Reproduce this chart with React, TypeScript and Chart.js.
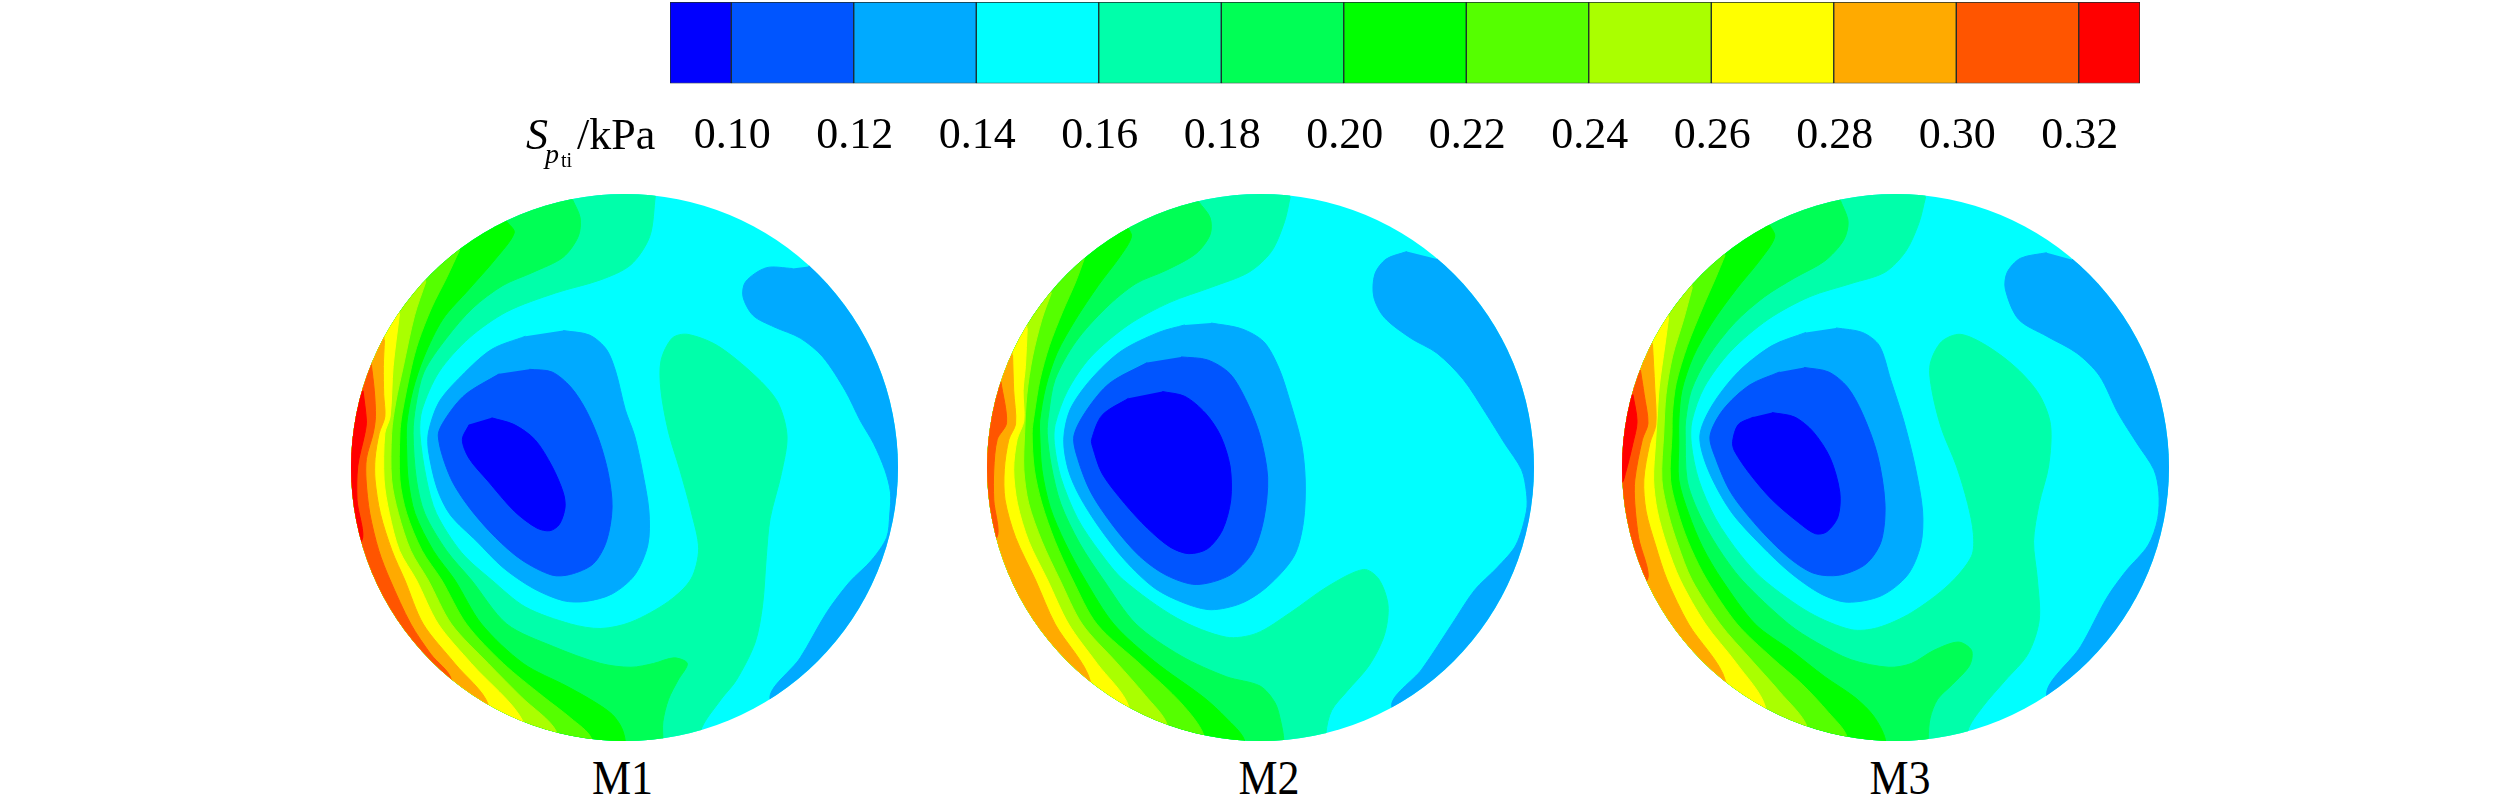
import React, { useEffect, useRef } from "react";
import { Chart, registerables } from "chart.js";

Chart.register(...registerables);

const FONT = "'Liberation Serif', serif";

// Colour bar
const levelEdges = [0.09, 0.1, 0.12, 0.14, 0.16, 0.18, 0.2, 0.22, 0.24, 0.26, 0.28, 0.3, 0.32, 0.33];
const levelColors = ["#0000ff", "#0055ff", "#00aaff", "#00ffff", "#00ffaa", "#00ff55", "#00ff00", "#55ff00", "#aaff00", "#ffff00", "#ffaa00", "#ff5500", "#ff0000"];
const tickValues = [0.1, 0.12, 0.14, 0.16, 0.18, 0.2, 0.22, 0.24, 0.26, 0.28, 0.3, 0.32];
const panelNames = ["M1", "M2", "M3"];

type P = number[][];

// Field floor (0.14-0.16) covers each whole section
const floor014: P = [[-100, -100], [1700, -100], [1700, 1700], [-100, 1700]];

// M1 contours, in section coordinates
const m1L16: P = [[865, 42], [850, 150], [800, 225], [720, 265], [600, 300], [470, 350], [370, 420], [290, 510], [245, 610], [239, 673], [257, 797], [283, 886], [350, 990], [430, 1063], [520, 1135], [640, 1180], [720, 1192], [800, 1175], [900, 1120], [960, 1060], [980, 980], [960, 880], [930, 770], [900, 670], [880, 560], [880, 480], [910, 420], [950, 410], [1030, 440], [1130, 520], [1190, 590], [1215, 680], [1200, 780], [1170, 900], [1160, 1000], [1150, 1130], [1130, 1230], [1080, 1330], [1040, 1380], [985, 1465], [985, 1568], [0, 1568], [0, 0], [865, 0]];
const m1L18: P = [[645, 52], [665, 100], [660, 150], [620, 205], [540, 245], [460, 280], [380, 340], [310, 420], [250, 510], [228, 600], [221, 673], [230, 797], [252, 886], [310, 985], [376, 1063], [470, 1180], [594, 1240], [720, 1285], [800, 1295], [860, 1285], [915, 1270], [950, 1285], [925, 1330], [900, 1380], [885, 1440], [885, 1490], [885, 1568], [0, 1568], [0, 0], [645, 0]];
const m1L20: P = [[470, 110], [490, 140], [440, 210], [370, 290], [300, 370], [250, 470], [220, 560], [204, 650], [204, 720], [208, 797], [226, 886], [275, 985], [332, 1063], [403, 1180], [514, 1285], [629, 1345], [700, 1385], [750, 1420], [775, 1455], [785, 1492], [785, 1568], [0, 1568], [0, 0], [470, 0]];
const m1L22: P = [[345, 185], [310, 260], [270, 340], [235, 430], [217, 496], [192, 620], [186, 673], [186, 797], [204, 886], [245, 985], [297, 1063], [363, 1180], [461, 1285], [567, 1373], [640, 1430], [695, 1484], [695, 1568], [0, 1568], [0, 0], [345, 0]];
const m1L24: P = [[255, 270], [225, 360], [195, 496], [175, 590], [164, 673], [164, 797], [182, 886], [215, 985], [261, 1063], [323, 1180], [421, 1285], [510, 1375], [602, 1466], [602, 1568], [0, 1568], [0, 0], [255, 0]];
const m1L26: P = [[185, 355], [168, 496], [160, 629], [146, 673], [144, 797], [158, 886], [185, 985], [230, 1063], [288, 1180], [376, 1285], [514, 1440], [514, 1568], [0, 1568], [0, 0], [185, 0]];
const m1L28: P = [[145, 425], [142, 496], [143, 570], [146, 629], [131, 673], [120, 740], [120, 797], [134, 886], [165, 985], [199, 1063], [248, 1180], [332, 1285], [421, 1395], [421, 1568], [0, 1568], [0, 0], [145, 0]];
const m1L30: P = [[110, 490], [118, 560], [121, 629], [115, 673], [97, 740], [96, 797], [106, 886], [130, 985], [160, 1063], [215, 1180], [268, 1260], [323, 1329], [323, 1568], [0, 1568], [0, 0], [110, 0]];
const m1L32: P = [[88, 560], [97, 640], [93, 673], [74, 760], [72, 850], [84, 960], [0, 960], [0, 560]];
const m1Low14: P = [[620, 400], [690, 412], [735, 450], [760, 510], [785, 610], [810, 680], [830, 770], [848, 880], [845, 970], [810, 1050], [750, 1100], [680, 1120], [620, 1118], [540, 1085], [460, 1030], [390, 960], [320, 890], [285, 820], [262, 720], [262, 670], [290, 590], [350, 520], [430, 450], [520, 415]];
const m1Low12: P = [[530, 503], [590, 510], [640, 550], [680, 610], [715, 690], [740, 780], [750, 870], [735, 960], [700, 1020], [640, 1048], [590, 1050], [510, 1010], [440, 950], [370, 870], [320, 790], [288, 680], [310, 630], [360, 570], [450, 515]];
const m1Low10: P = [[430, 632], [490, 650], [545, 690], [590, 760], [620, 830], [625, 870], [610, 915], [585, 932], [550, 925], [490, 880], [420, 800], [370, 740], [352, 690], [370, 650]];
const m1Right14: P = [[1272, 230], [1350, 140], [1650, 300], [1650, 1200], [1300, 1520], [1170, 1380], [1250, 1270], [1320, 1150], [1380, 1070], [1440, 1010], [1480, 950], [1488, 890], [1490, 830], [1475, 770], [1445, 700], [1410, 640], [1370, 560], [1310, 470], [1250, 420], [1180, 390], [1125, 360], [1098, 310], [1105, 270], [1160, 233], [1230, 235]];

// M2 contours
const m2L16: P = [[850, 45], [835, 110], [800, 190], [740, 245], [640, 285], [530, 325], [420, 385], [320, 470], [258, 560], [225, 650], [223, 700], [240, 790], [285, 900], [345, 990], [407, 1063], [550, 1165], [680, 1215], [760, 1205], [850, 1150], [950, 1080], [1045, 1035], [1085, 1060], [1110, 1130], [1100, 1210], [1060, 1290], [1000, 1360], [960, 1410], [945, 1470], [945, 1568], [0, 1568], [0, 0], [850, 0]];
const m2L18: P = [[607, 58], [637, 100], [637, 145], [600, 195], [520, 240], [440, 275], [360, 340], [280, 430], [225, 530], [208, 620], [204, 673], [215, 760], [240, 860], [290, 965], [354, 1063], [440, 1180], [560, 1265], [680, 1320], [770, 1345], [810, 1390], [825, 1440], [833, 1488], [833, 1568], [0, 1568], [0, 0], [607, 0]];
const m2L20: P = [[415, 120], [428, 150], [400, 200], [340, 280], [280, 370], [230, 460], [200, 550], [184, 640], [184, 673], [190, 770], [212, 870], [252, 965], [305, 1063], [381, 1180], [490, 1280], [620, 1375], [680, 1430], [728, 1488], [728, 1568], [0, 1568], [0, 0], [415, 0]];
const m2L22: P = [[303, 208], [280, 270], [245, 350], [210, 440], [185, 530], [170, 620], [164, 673], [170, 770], [190, 860], [225, 960], [272, 1063], [336, 1180], [455, 1290], [560, 1390], [620, 1475], [620, 1568], [0, 1568], [0, 0], [303, 0]];
const m2L24: P = [[215, 300], [190, 370], [165, 470], [150, 570], [144, 673], [142, 770], [155, 860], [190, 960], [238, 1063], [297, 1180], [390, 1284], [465, 1370], [523, 1448], [523, 1568], [0, 1568], [0, 0], [215, 0]];
const m2L26: P = [[151, 394], [146, 496], [140, 560], [142, 640], [124, 690], [115, 770], [125, 860], [155, 960], [205, 1063], [261, 1180], [336, 1284], [421, 1400], [421, 1568], [0, 1568], [0, 0], [151, 0]];
const m2L28: P = [[112, 465], [115, 560], [120, 648], [102, 690], [90, 770], [92, 850], [120, 950], [173, 1063], [225, 1180], [319, 1333], [319, 1568], [0, 1568], [0, 0], [112, 0]];
const m2L30: P = [[81, 536], [96, 645], [71, 690], [62, 770], [62, 850], [70, 950], [0, 950], [0, 536]];
const m2Low14: P = [[640, 380], [720, 395], [780, 430], [820, 500], [850, 590], [880, 700], [890, 800], [885, 910], [860, 1000], [790, 1080], [720, 1125], [640, 1142], [570, 1125], [490, 1085], [410, 1010], [340, 920], [290, 840], [260, 770], [248, 690], [265, 610], [320, 530], [400, 455], [500, 405], [570, 385]];
const m2Low12: P = [[560, 470], [630, 478], [690, 515], [735, 590], [770, 680], [790, 790], [780, 900], [750, 990], [690, 1050], [600, 1075], [520, 1050], [450, 1000], [380, 920], [320, 830], [285, 740], [275, 680], [310, 610], [370, 540], [470, 485]];
const m2Low10: P = [[510, 562], [570, 575], [625, 620], [665, 680], [690, 760], [692, 850], [670, 930], [630, 980], [580, 993], [530, 975], [470, 925], [410, 860], [350, 780], [325, 710], [322, 690], [350, 625], [420, 580]];
const m2Right14: P = [[1240, 210], [1320, 120], [1650, 300], [1650, 1200], [1250, 1540], [1120, 1400], [1200, 1300], [1280, 1180], [1340, 1090], [1400, 1030], [1450, 970], [1478, 880], [1478, 830], [1465, 770], [1420, 700], [1370, 620], [1310, 530], [1240, 460], [1170, 420], [1100, 365], [1072, 310], [1075, 250], [1105, 210], [1160, 190]];

// M3 contours
const m3L16: P = [[838, 45], [820, 115], [785, 190], [730, 245], [640, 275], [530, 310], [420, 370], [320, 455], [250, 550], [217, 640], [215, 700], [235, 797], [280, 900], [345, 995], [408, 1063], [530, 1150], [640, 1195], [710, 1190], [800, 1150], [900, 1075], [960, 1000], [965, 940], [950, 860], [920, 760], [880, 660], [855, 560], [850, 490], [880, 430], [930, 410], [1000, 440], [1080, 500], [1140, 570], [1170, 650], [1165, 760], [1140, 860], [1125, 960], [1135, 1060], [1140, 1170], [1110, 1260], [1050, 1330], [990, 1400], [950, 1465], [950, 1568], [0, 1568], [0, 0], [838, 0]];
const m3L18: P = [[612, 55], [632, 110], [620, 160], [570, 215], [490, 260], [410, 310], [330, 380], [260, 470], [215, 560], [200, 640], [199, 673], [204, 797], [235, 885], [285, 975], [350, 1063], [474, 1180], [550, 1230], [640, 1275], [740, 1295], [800, 1285], [860, 1250], [925, 1228], [960, 1250], [955, 1290], [910, 1340], [870, 1380], [850, 1430], [845, 1485], [845, 1568], [0, 1568], [0, 0], [612, 0]];
const m3L20: P = [[418, 112], [437, 150], [400, 210], [335, 290], [270, 380], [220, 470], [190, 560], [182, 640], [182, 700], [182, 797], [208, 886], [245, 975], [297, 1063], [385, 1180], [480, 1250], [570, 1320], [650, 1375], [700, 1425], [731, 1487], [731, 1568], [0, 1568], [0, 0], [418, 0]];
const m3L22: P = [[305, 200], [280, 260], [245, 340], [205, 440], [175, 540], [165, 620], [164, 673], [160, 797], [185, 900], [215, 980], [257, 1063], [337, 1180], [430, 1270], [510, 1340], [580, 1415], [629, 1479], [629, 1568], [0, 1568], [0, 0], [305, 0]];
const m3L24: P = [[218, 285], [195, 370], [165, 470], [148, 570], [142, 673], [137, 797], [155, 890], [180, 970], [217, 1063], [292, 1180], [370, 1270], [450, 1360], [523, 1453], [523, 1568], [0, 1568], [0, 0], [218, 0]];
const m3L26: P = [[155, 365], [145, 440], [130, 550], [124, 640], [120, 700], [115, 797], [125, 880], [150, 970], [186, 1063], [253, 1180], [335, 1284], [412, 1400], [412, 1568], [0, 1568], [0, 0], [155, 0]];
const m3L28: P = [[112, 435], [118, 550], [121, 650], [105, 700], [89, 797], [95, 880], [120, 970], [151, 1063], [208, 1180], [306, 1331], [306, 1568], [0, 1568], [0, 0], [112, 0]];
const m3L30: P = [[80, 505], [90, 570], [100, 647], [85, 690], [65, 797], [65, 860], [75, 950], [98, 1063], [0, 1063], [0, 505]];
const m3L32: P = [[60, 570], [71, 642], [60, 700], [40, 780], [30, 805], [0, 805], [0, 570]];
const m3Low14: P = [[600, 393], [670, 405], [715, 440], [745, 530], [780, 640], [810, 760], [830, 880], [825, 970], [790, 1050], [720, 1105], [630, 1122], [560, 1100], [480, 1045], [400, 970], [320, 880], [260, 770], [238, 680], [270, 600], [340, 510], [430, 440], [520, 405]];
const m3Low12: P = [[515, 498], [580, 510], [630, 550], [670, 620], [710, 730], [730, 860], [720, 960], [680, 1020], [610, 1050], [540, 1045], [470, 1000], [390, 920], [320, 830], [280, 740], [265, 680], [300, 610], [370, 545], [450, 510]];
const m3Low10: P = [[430, 618], [490, 630], [540, 670], [585, 740], [610, 830], [605, 895], [575, 935], [545, 940], [500, 910], [430, 850], [370, 780], [330, 720], [325, 695], [340, 650], [380, 630]];
const m3Right14: P = [[1228, 212], [1310, 110], [1650, 300], [1650, 1200], [1290, 1520], [1160, 1370], [1250, 1240], [1320, 1110], [1370, 1040], [1430, 970], [1455, 900], [1458, 830], [1445, 770], [1400, 700], [1350, 620], [1300, 520], [1240, 460], [1160, 415], [1085, 370], [1050, 290], [1055, 245], [1090, 208], [1160, 193]];

const CYAN = "#00ffff", AA = "#00ffaa", G55 = "#00ff55", G = "#00ff00", L55 = "#55ff00", LAA = "#aaff00", Y = "#ffff00", O = "#ffaa00", OR = "#ff5500", R = "#ff0000", B14 = "#00aaff", B12 = "#0055ff", B10 = "#0000ff";

const panelLayers: [P, string][][] = [
  [[floor014, CYAN], [m1L16, AA], [m1L18, G55], [m1L20, G], [m1L22, L55], [m1L24, LAA], [m1L26, Y], [m1L28, O], [m1L30, OR], [m1L32, R], [m1Right14, B14], [m1Low14, B14], [m1Low12, B12], [m1Low10, B10]],
  [[floor014, CYAN], [m2L16, AA], [m2L18, G55], [m2L20, G], [m2L22, L55], [m2L24, LAA], [m2L26, Y], [m2L28, O], [m2L30, OR], [m2Right14, B14], [m2Low14, B14], [m2Low12, B12], [m2Low10, B10]],
  [[floor014, CYAN], [m3L16, AA], [m3L18, G55], [m3L20, G], [m3L22, L55], [m3L24, LAA], [m3L26, Y], [m3L28, O], [m3L30, OR], [m3L32, R], [m3Right14, B14], [m3Low14, B14], [m3Low12, B12], [m3Low10, B10]],
];

const panelLeft = [351, 987, 1622];
const panelXRange = [[56, 1510], [44, 1498], [31, 1485]];
const panelYRange = [37, 1491];
const labelCenter = [622.5, 1269, 1900];

const circleClip = {
  id: "circleClip",
  beforeDatasetsDraw(chart: any) {
    const { ctx, chartArea: a } = chart;
    ctx.save();
    ctx.beginPath();
    ctx.arc((a.left + a.right) / 2, (a.top + a.bottom) / 2, (a.right - a.left) / 2, 0, Math.PI * 2);
    ctx.clip();
  },
  afterDatasetsDraw(chart: any) {
    chart.ctx.restore();
  },
};

function Section({ index }: { index: number }) {
  const ref = useRef<HTMLCanvasElement>(null);
  useEffect(() => {
    const layers = panelLayers[index];
    const chart = new Chart(ref.current as HTMLCanvasElement, {
      type: "scatter",
      data: {
        datasets: layers.map(([pts, color], i) => ({
          label: `layer ${i}`,
          data: pts.map(([x, y]) => ({ x, y })),
          showLine: true,
          fill: "shape",
          backgroundColor: color,
          borderColor: color,
          borderWidth: 1,
          pointRadius: 0,
          tension: 0.3,
          capBezierPoints: false,
          order: layers.length - i,
        })),
      } as any,
      options: {
        animation: false,
        responsive: false,
        devicePixelRatio: 1,
        layout: { padding: 0 },
        plugins: { legend: { display: false }, tooltip: { enabled: false } },
        events: [],
        scales: {
          x: { type: "linear", display: false, min: panelXRange[index][0], max: panelXRange[index][1] },
          y: { type: "linear", display: false, reverse: true, min: panelYRange[0], max: panelYRange[1] },
        },
      } as any,
      plugins: [circleClip],
    });
    return () => chart.destroy();
  }, [index]);
  return (
    <canvas
      ref={ref}
      width={547}
      height={547}
      style={{ position: "absolute", left: panelLeft[index], top: 194, width: 547, height: 547 }}
    />
  );
}

function ColorBar() {
  const ref = useRef<HTMLCanvasElement>(null);
  useEffect(() => {
    const chart = new Chart(ref.current as HTMLCanvasElement, {
      type: "bar",
      data: {
        labels: [""],
        datasets: levelColors.map((color, i) => ({
          label: color,
          data: [[levelEdges[i], levelEdges[i + 1]]],
          backgroundColor: color,
          borderColor: "#1c2b2b",
          borderWidth: 1,
          borderSkipped: false,
          grouped: false,
          barPercentage: 1,
          categoryPercentage: 1,
        })),
      } as any,
      options: {
        indexAxis: "y",
        animation: false,
        responsive: false,
        devicePixelRatio: 1,
        events: [],
        layout: { padding: { left: 670, right: 380, top: 2, bottom: 0 } },
        plugins: { legend: { display: false }, tooltip: { enabled: false } },
        scales: {
          y: { type: "category", display: false },
          x: {
            type: "linear",
            min: levelEdges[0],
            max: levelEdges[levelEdges.length - 1],
            afterBuildTicks(axis: any) {
              axis.ticks = tickValues.map((value) => ({ value }));
            },
            grid: { display: false, drawTicks: false },
            border: { display: false },
            ticks: {
              autoSkip: false,
              maxRotation: 0,
              padding: 27,
              labelOffset: 1,
              color: "#000",
              font: { family: FONT, size: 44 },
              callback: (v: any) => Number(v).toFixed(2),
            },
          },
        },
      } as any,
    });
    return () => chart.destroy();
  }, []);
  return (
    <canvas ref={ref} width={2520} height={165} style={{ position: "absolute", left: 0, top: 0, width: 2520, height: 165 }} />
  );
}

const txt = (left: number, top: number, size: number, italic: boolean): React.CSSProperties => ({
  position: "absolute",
  left,
  top,
  fontFamily: FONT,
  fontSize: size,
  lineHeight: 1,
  fontStyle: italic ? "italic" : "normal",
  color: "#000",
  whiteSpace: "nowrap",
});

export default function App() {
  return (
    <div style={{ position: "absolute", left: 0, top: 0, width: 2520, height: 808, overflow: "hidden", background: "#fff" }}>
      <ColorBar />
      <span style={txt(526, 113, 44, true)}>S</span>
      <span style={txt(545, 140, 28, true)}>p</span>
      <span style={txt(561, 150, 20, false)}>ti</span>
      <span style={txt(577, 113, 44, false)}>/kPa</span>
      {panelNames.map((name, i) => (
        <React.Fragment key={name}>
          <Section index={i} />
          <span style={{ ...txt(labelCenter[i], 758, 44, false), transform: "translateX(-50%) scaleY(1.08)", transformOrigin: "50% 84%" }}>{name}</span>
        </React.Fragment>
      ))}
    </div>
  );
}
